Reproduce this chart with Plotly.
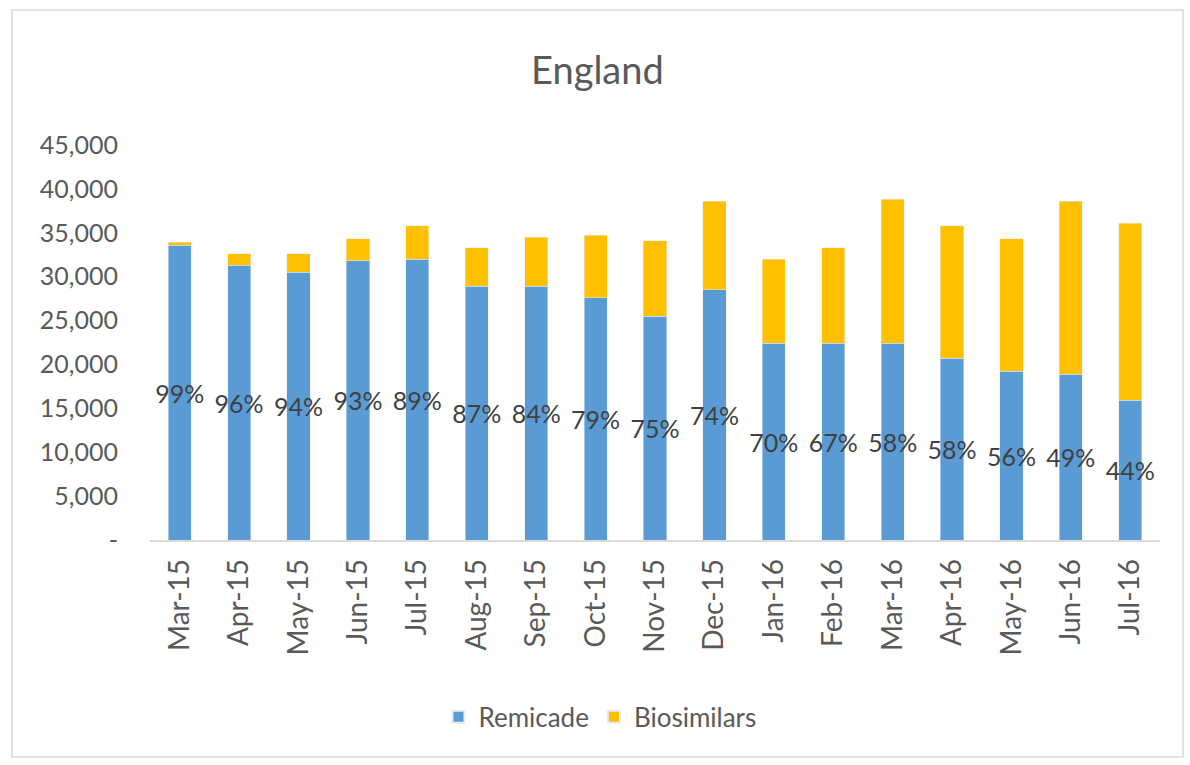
import plotly.graph_objects as go

months = ["Mar-15", "Apr-15", "May-15", "Jun-15", "Jul-15", "Aug-15", "Sep-15", "Oct-15",
          "Nov-15", "Dec-15", "Jan-16", "Feb-16", "Mar-16", "Apr-16", "May-16", "Jun-16", "Jul-16"]
remicade = [33600, 31300, 30500, 31800, 32000, 28900, 28900, 27600,
            25500, 28500, 22400, 22400, 22400, 20700, 19200, 18900, 15900]
totals = [33900, 32600, 32600, 34300, 35800, 33300, 34500, 34700,
          34100, 38600, 32000, 33300, 38800, 35800, 34300, 38600, 36100]
share_labels = ["99%", "96%", "94%", "93%", "89%", "87%", "84%", "79%", "75%", "74%",
                "70%", "67%", "58%", "58%", "56%", "49%", "44%"]
biosimilars = [t - r for t, r in zip(totals, remicade)]

FONT = "Lato"
GRAY = "#595959"

fig = go.Figure()
fig.add_trace(go.Bar(
    x=months, y=remicade, name="Remicade", marker_color="#5B9BD5",
    text=share_labels, textposition="inside", insidetextanchor="middle",
    constraintext="none", textangle=0,
    textfont=dict(family=FONT, size=25, color="#404040"),
))
fig.add_trace(go.Bar(
    x=months, y=biosimilars, name="Biosimilars", marker_color="#FFC000",
))

fig.update_layout(
    width=1190, height=765,
    barmode="stack", bargap=0.61,
    paper_bgcolor="white", plot_bgcolor="white",
    margin=dict(l=150, r=30, t=145, b=225),
    font=dict(family=FONT, color=GRAY),
    title=dict(text="England", x=0.502, xanchor="center", y=0.908, yanchor="middle",
               font=dict(family=FONT, size=38, color=GRAY)),
    legend=dict(orientation="h", x=0.4455, xanchor="center", y=-0.448, yanchor="middle",
                font=dict(family=FONT, size=26, color=GRAY), traceorder="normal",
                itemsizing="constant"),
    xaxis=dict(tickangle=-90, tickfont=dict(family=FONT, size=28, color=GRAY),
               showline=True, linecolor="#D9D9D9", linewidth=1.5, ticks="",
               showgrid=False, ticklabelstandoff=6),
    yaxis=dict(range=[0, 45000], tickvals=[0, 5000, 10000, 15000, 20000, 25000, 30000, 35000, 40000, 45000],
               ticktext=["-", "5,000", "10,000", "15,000", "20,000", "25,000", "30,000", "35,000", "40,000", "45,000"],
               tickfont=dict(family=FONT, size=25, color=GRAY), showgrid=False, zeroline=False,
               ticks="", ticklabelstandoff=31),
    shapes=[dict(type="rect", xref="paper", yref="paper",
                 x0=(12 - 150) / 1010, x1=(1183 - 150) / 1010,
                 y0=(540 - 757) / 395, y1=(540 - 10) / 395,
                 line=dict(color="#D9D9D9", width=1.5), fillcolor="rgba(0,0,0,0)", layer="below")],
)

fig.write_html("out.html")
